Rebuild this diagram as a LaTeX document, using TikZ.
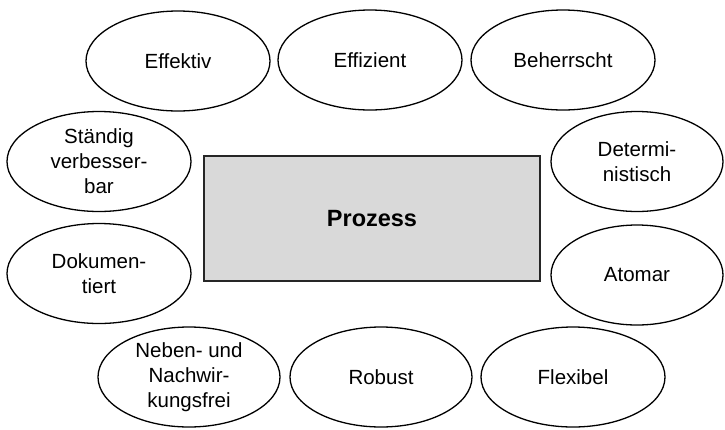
\documentclass[tikz,border=0pt]{standalone}
\usepackage{fontspec}
\setmainfont{Liberation Sans}
\usetikzlibrary{shapes.geometric}
\begin{document}
\begin{tikzpicture}[x=1pt,y=-1pt,
  prop/.style={draw=black, line width=1.3pt, ellipse, inner sep=0pt,
    minimum width=184pt, minimum height=100pt, align=center,
    font=\fontsize{20.5}{25}\selectfont},
  core/.style={draw=black!85, line width=1.8pt, fill=black!15, rectangle,
    inner sep=0pt, minimum width=336pt, minimum height=125pt,
    font=\fontsize{23.5}{28}\selectfont\bfseries}]
\useasboundingbox (0,0) rectangle (725,429);
\node[core] (proz) at (372,218.5) {Prozess};
\node[prop] (eff) at (178,61) {Effektiv};
\node[prop] (effz) at (370,60) {Effizient};
\node[prop] (beh) at (563,60) {Beherrscht};
\node[prop] (stae) at (99,161.5) {Ständig\\verbesser-\\bar};
\node[prop, minimum width=172pt] (det) at (637,161.5) {Determi-\\nistisch};
\node[prop] (dok) at (99,273.5) {Dokumen-\\tiert};
\node[prop, minimum width=172pt] (ato) at (637,275) {Atomar};
\node[prop, minimum width=182pt] (neb) at (189,377) {Neben- und\\Nachwir-\\kungsfrei};
\node[prop, minimum width=182pt] (rob) at (381,377) {Robust};
\node[prop] (flex) at (573,377) {Flexibel};
\end{tikzpicture}
\end{document}
